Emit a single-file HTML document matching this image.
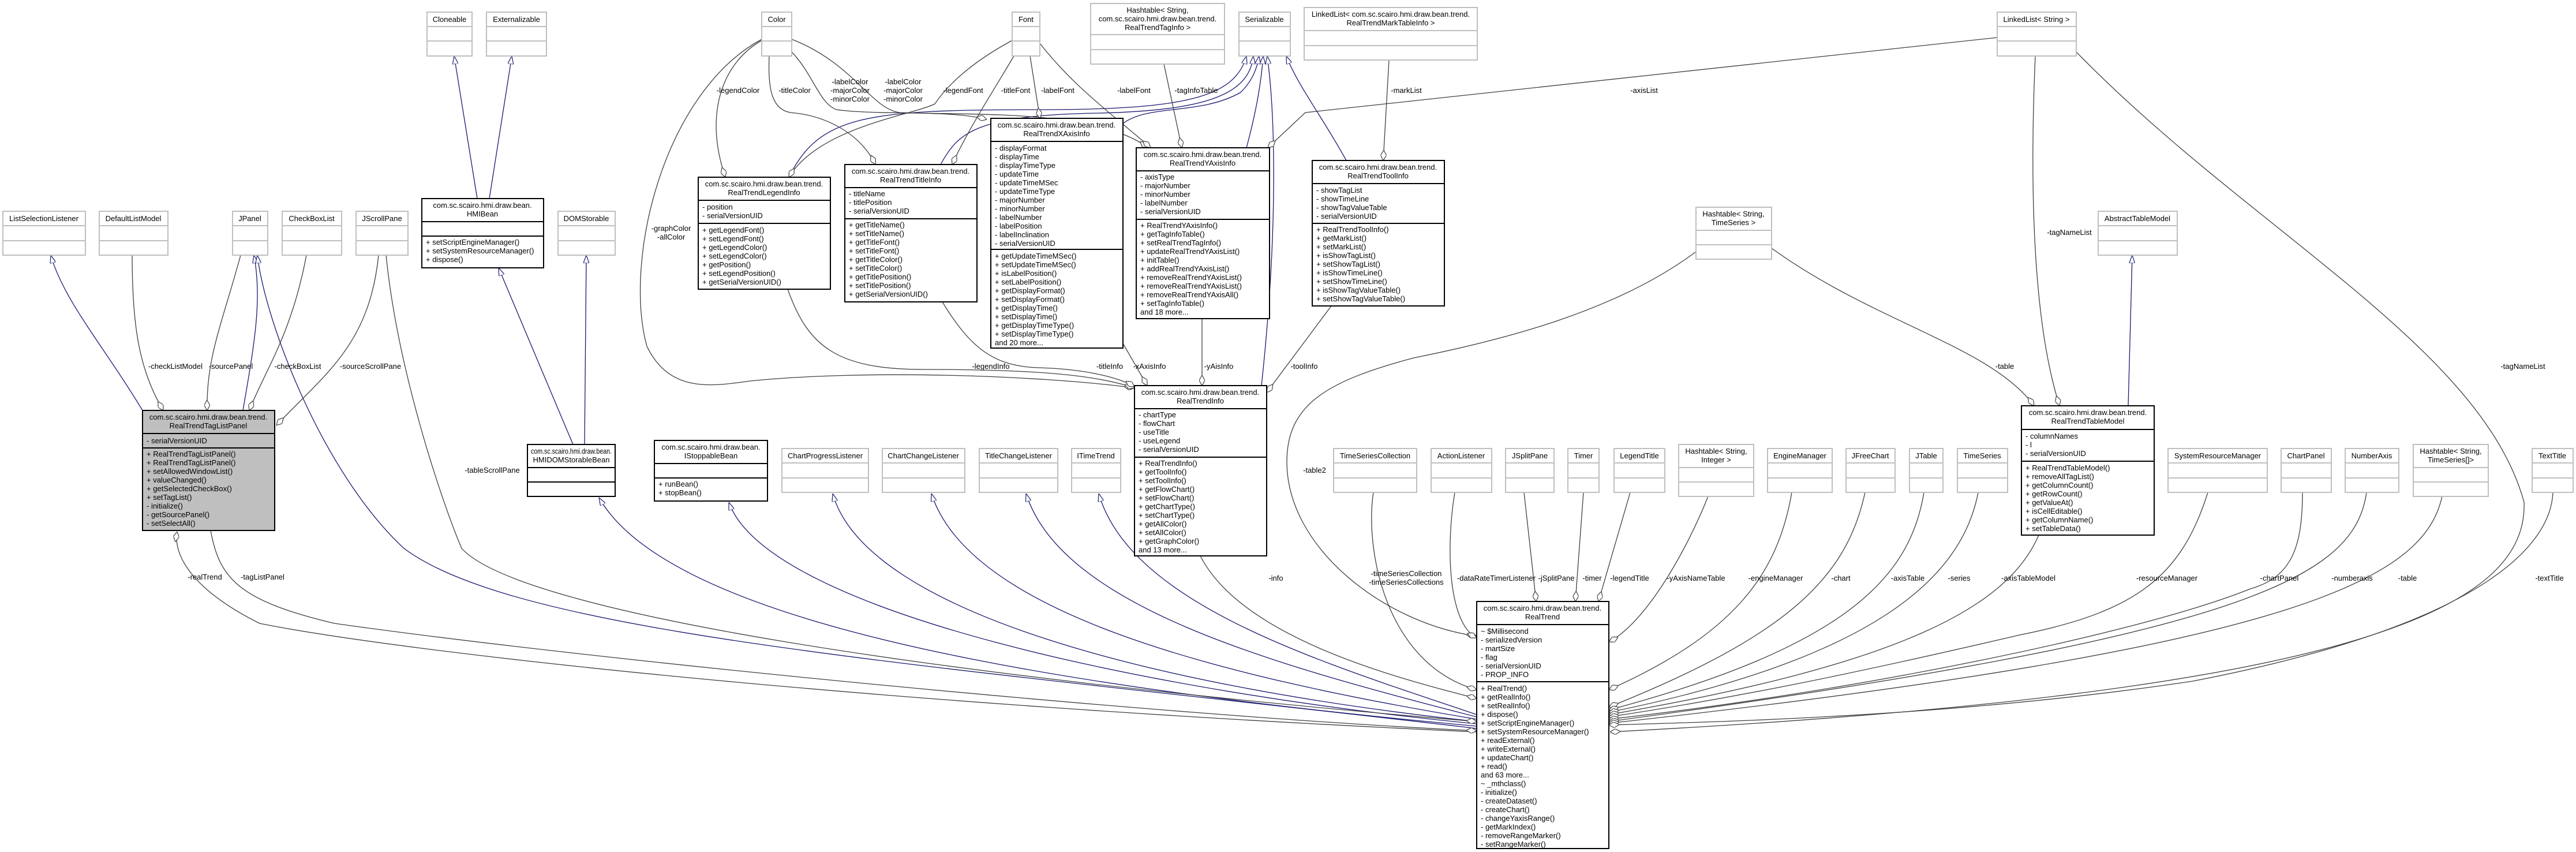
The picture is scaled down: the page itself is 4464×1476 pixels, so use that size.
<!DOCTYPE html>
<html><head><meta charset="utf-8"><style>
html,body{margin:0;padding:0;background:#fff;}
svg{display:block;}
text{font-family:"Liberation Sans",sans-serif;font-size:13px;fill:#000;}
.c{text-anchor:middle;}
.g{fill:#fff;stroke:#bfbfbf;stroke-width:2;}
.gl{stroke:#bfbfbf;stroke-width:2;}
.b{fill:#fff;stroke:#000;stroke-width:2;}
.bl{stroke:#000;stroke-width:2;}
.inh{fill:none;stroke:#191970;stroke-width:1.3;marker-end:url(#tri);}
.cmp{fill:none;stroke:#404040;stroke-width:1.3;marker-end:url(#dia);}
</style></head><body>
<svg width="4464" height="1476" viewBox="0 0 4464 1476" xmlns="http://www.w3.org/2000/svg">
<defs>
<marker id="tri" viewBox="0 0 14 10" markerWidth="14" markerHeight="10" refX="14" refY="5" orient="auto" markerUnits="userSpaceOnUse"><path d="M0,0 L14,5 L0,10 z" fill="#fff" stroke="#191970" stroke-width="1.2"/></marker>
<marker id="dia" viewBox="0 0 18 10" markerWidth="18" markerHeight="10" refX="18" refY="5" orient="auto" markerUnits="userSpaceOnUse"><path d="M0,5 L9,0 L18,5 L9,10 z" fill="#fff" stroke="#404040" stroke-width="1.2"/></marker>
</defs>

<!-- inheritance -->
<path class="inh" d="M827,344 L787,97"/>
<path class="inh" d="M848,344 L887,97"/>
<path class="inh" d="M993,770 L864,464"/>
<path class="inh" d="M1013,770 L1016,442"/>
<path class="inh" d="M247,711 C180,600 110,520 88,442"/>
<path class="inh" d="M421,711 C440,600 455,520 440,442"/>
<path class="inh" d="M2559,1262 C1600,1150 900,1100 700,950 C560,820 460,560 446,442"/>
<path class="inh" d="M2559,1258 C1700,1180 1150,1060 1038,862"/>
<path class="inh" d="M2559,1254 C2000,1200 1330,1060 1263,870"/>
<path class="inh" d="M2559,1250 C2000,1190 1500,1060 1443,855"/>
<path class="inh" d="M2559,1246 C2100,1170 1680,1060 1614,855"/>
<path class="inh" d="M2559,1242 C2200,1150 1840,1050 1778,855"/>
<path class="inh" d="M2559,1238 C2300,1150 1960,1050 1904,855"/>
<path class="inh" d="M1367,307 C1420,200 1500,190 1800,190 C2050,190 2140,170 2160,97"/>
<path class="inh" d="M1630,285 C1660,230 1690,200 1900,196 C2100,192 2165,160 2172,97"/>
<path class="inh" d="M1946,214 C1990,180 2080,200 2150,160 C2170,140 2178,120 2182,97"/>
<path class="inh" d="M2160,256 C2175,200 2185,150 2189,97"/>
<path class="inh" d="M2186,668 C2215,400 2210,200 2196,97"/>
<path class="inh" d="M2333,278 C2290,200 2250,150 2229,97"/>
<path class="inh" d="M3688,703 L3695,442"/>

<!-- compositions -->
<path class="cmp" d="M229,442 C229,560 240,640 283,711"/>
<path class="cmp" d="M417,442 C385,560 357,620 359,711"/>
<path class="cmp" d="M531,442 C505,580 460,640 432,711"/>
<path class="cmp" d="M656,442 C640,600 560,650 479,737"/>
<path class="cmp" d="M669,442 C690,650 770,880 800,950 C900,1060 1600,1170 2559,1250"/>
<path class="cmp" d="M2559,1268 C1500,1220 700,1130 450,1080 C330,1020 300,960 307,921"/>
<path class="cmp" d="M365,919 C380,1000 410,1040 580,1080 C1000,1140 2000,1240 2559,1266"/>
<path class="cmp" d="M1320,70 C1250,110 1220,200 1257,307"/>
<path class="cmp" d="M1333,97 C1330,160 1340,190 1370,195 C1430,200 1490,230 1517,285"/>
<path class="cmp" d="M1372,90 C1410,130 1420,180 1450,190 C1520,200 1650,190 1710,207"/>
<path class="cmp" d="M1372,68 C1480,110 1510,190 1560,195 C1700,200 1900,190 1990,256"/>
<path class="cmp" d="M1320,68 C1150,160 1080,450 1121,600 C1160,680 1230,670 1300,660 C1500,640 1800,650 1966,672"/>
<path class="cmp" d="M1365,501 C1400,600 1450,640 1600,640 C1800,640 1900,650 1966,672"/>
<path class="cmp" d="M1633,523 C1680,600 1720,635 1800,637 C1900,640 1950,660 1966,670"/>
<path class="cmp" d="M1946,595 L1988,668"/>
<path class="cmp" d="M2083,552 L2083,668"/>
<path class="cmp" d="M2307,530 L2195,680"/>
<path class="cmp" d="M1754,70 C1680,110 1640,150 1620,180 C1580,200 1420,220 1367,307"/>
<path class="cmp" d="M1757,97 C1720,160 1680,220 1650,285"/>
<path class="cmp" d="M1785,97 L1802,205"/>
<path class="cmp" d="M1802,75 C1860,150 1930,200 1994,256"/>
<path class="cmp" d="M2017,111 L2048,256"/>
<path class="cmp" d="M2407,104 L2397,278"/>
<path class="cmp" d="M3461,65 L2262,195 L2197,256"/>
<path class="cmp" d="M3527,97 C3518,300 3520,550 3569,703"/>
<path class="cmp" d="M3598,90 C3900,400 4300,600 4374,870 C4380,1050 4100,1200 2790,1268"/>
<path class="cmp" d="M3070,430 C3250,560 3450,600 3525,703"/>
<path class="cmp" d="M2939,436 C2800,540 2600,590 2450,620 C2300,660 2230,700 2230,800 C2230,950 2400,1080 2559,1102"/>
<path class="cmp" d="M2080,963 C2150,1100 2400,1170 2559,1210"/>
<path class="cmp" d="M2380,853 C2365,950 2400,1150 2559,1195"/>
<path class="cmp" d="M2521,853 C2505,950 2510,1080 2559,1105"/>
<path class="cmp" d="M2641,853 L2662,1042"/>
<path class="cmp" d="M2744,853 L2730,1042"/>
<path class="cmp" d="M2825,853 L2770,1042"/>
<path class="cmp" d="M2960,860 C2920,960 2850,1080 2788,1112"/>
<path class="cmp" d="M3105,853 C3080,1000 3000,1100 2788,1195"/>
<path class="cmp" d="M3232,853 C3200,1000 3100,1100 2788,1225"/>
<path class="cmp" d="M3334,853 C3310,1000 3200,1120 2788,1230"/>
<path class="cmp" d="M3428,853 C3400,1000 3250,1140 2788,1234"/>
<path class="cmp" d="M3533,927 C3480,1050 3300,1150 2788,1238"/>
<path class="cmp" d="M3826,853 C3780,1000 3700,1060 3500,1100 C3200,1170 3000,1210 2788,1242"/>
<path class="cmp" d="M3990,853 C3990,950 3970,1000 3900,1020 C3700,1100 3200,1200 2788,1246"/>
<path class="cmp" d="M4101,853 C4080,1000 3900,1100 2788,1250"/>
<path class="cmp" d="M4232,860 C4200,1000 4000,1120 2788,1253"/>
<path class="cmp" d="M4424,853 C4420,950 4290,1085 3800,1180 C3400,1240 3000,1250 2788,1256"/>

<g>
<text class="c" x="304" y="639">-checkListModel</text>
<text class="c" x="400" y="639">-sourcePanel</text>
<text class="c" x="516" y="639">-checkBoxList</text>
<text class="c" x="642" y="639">-sourceScrollPane</text>
<text class="c" x="853" y="819">-tableScrollPane</text>
<text class="c" x="355" y="1004">-realTrend</text>
<text class="c" x="455" y="1004">-tagListPanel</text>
<text class="c" x="1279" y="161">-legendColor</text>
<text class="c" x="1377" y="161">-titleColor</text>
<text class="c" x="1473" y="146">-labelColor</text><text class="c" x="1473" y="161">-majorColor</text><text class="c" x="1473" y="176">-minorColor</text>
<text class="c" x="1565" y="146">-labelColor</text><text class="c" x="1565" y="161">-majorColor</text><text class="c" x="1565" y="176">-minorColor</text>
<text class="c" x="1669" y="161">-legendFont</text>
<text class="c" x="1760" y="161">-titleFont</text>
<text class="c" x="1833" y="161">-labelFont</text>
<text class="c" x="1965" y="161">-labelFont</text>
<text class="c" x="1163" y="400">-graphColor</text><text class="c" x="1163" y="415">-allColor</text>
<text class="c" x="2073" y="161">-tagInfoTable</text>
<text class="c" x="2437" y="161">-markList</text>
<text class="c" x="2849" y="161">-axisList</text>
<text class="c" x="3586" y="407">-tagNameList</text>
<text class="c" x="1717" y="639">-legendInfo</text>
<text class="c" x="1923" y="639">-titleInfo</text>
<text class="c" x="1992" y="639">-xAxisInfo</text>
<text class="c" x="2112" y="639">-yAisInfo</text>
<text class="c" x="2260" y="639">-toolInfo</text>
<text class="c" x="2278" y="819">-table2</text>
<text class="c" x="3474" y="639">-table</text>
<text class="c" x="4372" y="639">-tagNameList</text>
<text class="c" x="2211" y="1006">-info</text>
<text class="c" x="2437" y="998">-timeSeriesCollection</text><text class="c" x="2437" y="1013">-timeSeriesCollections</text>
<text class="c" x="2593" y="1006">-dataRateTimerListener</text>
<text class="c" x="2697" y="1006">-jSplitPane</text>
<text class="c" x="2759" y="1006">-timer</text>
<text class="c" x="2824" y="1006">-legendTitle</text>
<text class="c" x="2939" y="1006">-yAxisNameTable</text>
<text class="c" x="3077" y="1006">-engineManager</text>
<text class="c" x="3190" y="1006">-chart</text>
<text class="c" x="3306" y="1006">-axisTable</text>
<text class="c" x="3395" y="1006">-series</text>
<text class="c" x="3515" y="1006">-axisTableModel</text>
<text class="c" x="3755" y="1006">-resourceManager</text>
<text class="c" x="3950" y="1006">-chartPanel</text>
<text class="c" x="4076" y="1006">-numberaxis</text>
<text class="c" x="4172" y="1006">-table</text>
<text class="c" x="4418" y="1006">-textTitle</text>
</g>

<g>
<rect class="g" x="740" y="21" width="78" height="76"/><line class="gl" x1="740" y1="46" x2="818" y2="46"/><line class="gl" x1="740" y1="71" x2="818" y2="71"/><text class="c" x="779" y="38">Cloneable</text>
<rect class="g" x="843" y="21" width="104" height="76"/><line class="gl" x1="843" y1="46" x2="947" y2="46"/><line class="gl" x1="843" y1="71" x2="947" y2="71"/><text class="c" x="895" y="38">Externalizable</text>
<rect class="g" x="1320" y="21" width="52" height="76"/><line class="gl" x1="1320" y1="46" x2="1372" y2="46"/><line class="gl" x1="1320" y1="71" x2="1372" y2="71"/><text class="c" x="1346" y="38">Color</text>
<rect class="g" x="1754" y="21" width="48" height="76"/><line class="gl" x1="1754" y1="46" x2="1802" y2="46"/><line class="gl" x1="1754" y1="71" x2="1802" y2="71"/><text class="c" x="1778" y="38">Font</text>
<rect class="g" x="2147" y="21" width="89" height="76"/><line class="gl" x1="2147" y1="46" x2="2236" y2="46"/><line class="gl" x1="2147" y1="71" x2="2236" y2="71"/><text class="c" x="2191" y="38">Serializable</text>
<rect class="g" x="3461" y="21" width="137" height="76"/><line class="gl" x1="3461" y1="46" x2="3598" y2="46"/><line class="gl" x1="3461" y1="71" x2="3598" y2="71"/><text class="c" x="3529" y="38">LinkedList&lt; String &gt;</text>
<rect class="g" x="1890" y="6" width="232" height="105"/><line class="gl" x1="1890" y1="60" x2="2122" y2="60"/><line class="gl" x1="1890" y1="86" x2="2122" y2="86"/>
<text class="c" x="2006" y="22">Hashtable&lt; String,</text><text class="c" x="2006" y="37">com.sc.scairo.hmi.draw.bean.trend.</text><text class="c" x="2006" y="52">RealTrendTagInfo &gt;</text>
<rect class="g" x="2260" y="13" width="300" height="91"/><line class="gl" x1="2260" y1="53" x2="2560" y2="53"/><line class="gl" x1="2260" y1="79" x2="2560" y2="79"/>
<text class="c" x="2410" y="29">LinkedList&lt; com.sc.scairo.hmi.draw.bean.trend.</text><text class="c" x="2410" y="44">RealTrendMarkTableInfo &gt;</text>

<rect class="g" x="5" y="366" width="143" height="76"/><line class="gl" x1="5" y1="391" x2="148" y2="391"/><line class="gl" x1="5" y1="417" x2="148" y2="417"/><text class="c" x="76" y="383">ListSelectionListener</text>
<rect class="g" x="172" y="366" width="119" height="76"/><line class="gl" x1="172" y1="391" x2="291" y2="391"/><line class="gl" x1="172" y1="417" x2="291" y2="417"/><text class="c" x="231" y="383">DefaultListModel</text>
<rect class="g" x="403" y="366" width="61" height="76"/><line class="gl" x1="403" y1="391" x2="464" y2="391"/><line class="gl" x1="403" y1="417" x2="464" y2="417"/><text class="c" x="433" y="383">JPanel</text>
<rect class="g" x="489" y="366" width="103" height="76"/><line class="gl" x1="489" y1="391" x2="592" y2="391"/><line class="gl" x1="489" y1="417" x2="592" y2="417"/><text class="c" x="540" y="383">CheckBoxList</text>
<rect class="g" x="617" y="366" width="90" height="76"/><line class="gl" x1="617" y1="391" x2="707" y2="391"/><line class="gl" x1="617" y1="417" x2="707" y2="417"/><text class="c" x="662" y="383">JScrollPane</text>
<rect class="g" x="967" y="366" width="99" height="76"/><line class="gl" x1="967" y1="391" x2="1066" y2="391"/><line class="gl" x1="967" y1="417" x2="1066" y2="417"/><text class="c" x="1016" y="383">DOMStorable</text>
<rect class="g" x="3636" y="366" width="137" height="76"/><line class="gl" x1="3636" y1="391" x2="3773" y2="391"/><line class="gl" x1="3636" y1="417" x2="3773" y2="417"/><text class="c" x="3704" y="383">AbstractTableModel</text>
<rect class="g" x="2939" y="359" width="131" height="90"/><line class="gl" x1="2939" y1="399" x2="3070" y2="399"/><line class="gl" x1="2939" y1="424" x2="3070" y2="424"/><text class="c" x="3004" y="375">Hashtable&lt; String,</text><text class="c" x="3004" y="390">TimeSeries &gt;</text>

<rect class="g" x="1355" y="777" width="150" height="76"/><line class="gl" x1="1355" y1="802" x2="1505" y2="802"/><line class="gl" x1="1355" y1="828" x2="1505" y2="828"/><text class="c" x="1430" y="794">ChartProgressListener</text>
<rect class="g" x="1529" y="777" width="143" height="76"/><line class="gl" x1="1529" y1="802" x2="1672" y2="802"/><line class="gl" x1="1529" y1="828" x2="1672" y2="828"/><text class="c" x="1600" y="794">ChartChangeListener</text>
<rect class="g" x="1697" y="777" width="136" height="76"/><line class="gl" x1="1697" y1="802" x2="1833" y2="802"/><line class="gl" x1="1697" y1="828" x2="1833" y2="828"/><text class="c" x="1765" y="794">TitleChangeListener</text>
<rect class="g" x="1857" y="777" width="85" height="76"/><line class="gl" x1="1857" y1="802" x2="1942" y2="802"/><line class="gl" x1="1857" y1="828" x2="1942" y2="828"/><text class="c" x="1899" y="794">ITimeTrend</text>
<rect class="g" x="2311" y="777" width="144" height="76"/><line class="gl" x1="2311" y1="802" x2="2455" y2="802"/><line class="gl" x1="2311" y1="828" x2="2455" y2="828"/><text class="c" x="2383" y="794">TimeSeriesCollection</text>
<rect class="g" x="2480" y="777" width="105" height="76"/><line class="gl" x1="2480" y1="802" x2="2585" y2="802"/><line class="gl" x1="2480" y1="828" x2="2585" y2="828"/><text class="c" x="2532" y="794">ActionListener</text>
<rect class="g" x="2609" y="777" width="84" height="76"/><line class="gl" x1="2609" y1="802" x2="2693" y2="802"/><line class="gl" x1="2609" y1="828" x2="2693" y2="828"/><text class="c" x="2651" y="794">JSplitPane</text>
<rect class="g" x="2717" y="777" width="54" height="76"/><line class="gl" x1="2717" y1="802" x2="2771" y2="802"/><line class="gl" x1="2717" y1="828" x2="2771" y2="828"/><text class="c" x="2744" y="794">Timer</text>
<rect class="g" x="2797" y="777" width="88" height="76"/><line class="gl" x1="2797" y1="802" x2="2885" y2="802"/><line class="gl" x1="2797" y1="828" x2="2885" y2="828"/><text class="c" x="2841" y="794">LegendTitle</text>
<rect class="g" x="2909" y="770" width="130" height="90"/><line class="gl" x1="2909" y1="810" x2="3039" y2="810"/><line class="gl" x1="2909" y1="835" x2="3039" y2="835"/><text class="c" x="2974" y="786">Hashtable&lt; String,</text><text class="c" x="2974" y="801">Integer &gt;</text>
<rect class="g" x="3063" y="777" width="112" height="76"/><line class="gl" x1="3063" y1="802" x2="3175" y2="802"/><line class="gl" x1="3063" y1="828" x2="3175" y2="828"/><text class="c" x="3119" y="794">EngineManager</text>
<rect class="g" x="3199" y="777" width="85" height="76"/><line class="gl" x1="3199" y1="802" x2="3284" y2="802"/><line class="gl" x1="3199" y1="828" x2="3284" y2="828"/><text class="c" x="3241" y="794">JFreeChart</text>
<rect class="g" x="3309" y="777" width="58" height="76"/><line class="gl" x1="3309" y1="802" x2="3367" y2="802"/><line class="gl" x1="3309" y1="828" x2="3367" y2="828"/><text class="c" x="3338" y="794">JTable</text>
<rect class="g" x="3392" y="777" width="87" height="76"/><line class="gl" x1="3392" y1="802" x2="3479" y2="802"/><line class="gl" x1="3392" y1="828" x2="3479" y2="828"/><text class="c" x="3435" y="794">TimeSeries</text>
<rect class="g" x="3757" y="777" width="172" height="76"/><line class="gl" x1="3757" y1="802" x2="3929" y2="802"/><line class="gl" x1="3757" y1="828" x2="3929" y2="828"/><text class="c" x="3843" y="794">SystemResourceManager</text>
<rect class="g" x="3953" y="777" width="87" height="76"/><line class="gl" x1="3953" y1="802" x2="4040" y2="802"/><line class="gl" x1="3953" y1="828" x2="4040" y2="828"/><text class="c" x="3996" y="794">ChartPanel</text>
<rect class="g" x="4064" y="777" width="93" height="76"/><line class="gl" x1="4064" y1="802" x2="4157" y2="802"/><line class="gl" x1="4064" y1="828" x2="4157" y2="828"/><text class="c" x="4110" y="794">NumberAxis</text>
<rect class="g" x="4182" y="770" width="130" height="90"/><line class="gl" x1="4182" y1="810" x2="4312" y2="810"/><line class="gl" x1="4182" y1="835" x2="4312" y2="835"/><text class="c" x="4247" y="786">Hashtable&lt; String,</text><text class="c" x="4247" y="801">TimeSeries[]&gt;</text>
<rect class="g" x="4388" y="777" width="71" height="76"/><line class="gl" x1="4388" y1="802" x2="4459" y2="802"/><line class="gl" x1="4388" y1="828" x2="4459" y2="828"/><text class="c" x="4423" y="794">TextTitle</text>
</g>

<rect class="b" x="731" y="344" width="211" height="120"/><line class="bl" x1="731" y1="384" x2="942" y2="384"/><line class="bl" x1="731" y1="409" x2="942" y2="409"/>
<text class="c" x="836" y="360">com.sc.scairo.hmi.draw.bean.</text><text class="c" x="836" y="375">HMIBean</text>
<text x="738" y="424">+ setScriptEngineManager()</text><text x="738" y="439">+ setSystemResourceManager()</text><text x="738" y="454">+ dispose()</text>

<rect class="b" x="914" y="770" width="152" height="90"/><line class="bl" x1="914" y1="810" x2="1066" y2="810"/><line class="bl" x1="914" y1="835" x2="1066" y2="835"/>
<text class="c" x="990" y="786" textLength="140" lengthAdjust="spacingAndGlyphs">com.sc.scairo.hmi.draw.bean.</text><text class="c" x="990" y="801">HMIDOMStorableBean</text>

<rect class="b" x="1134" y="763" width="196" height="105"/><line class="bl" x1="1134" y1="803" x2="1330" y2="803"/><line class="bl" x1="1134" y1="828" x2="1330" y2="828"/>
<text class="c" x="1232" y="779">com.sc.scairo.hmi.draw.bean.</text><text class="c" x="1232" y="794">IStoppableBean</text>
<text x="1141" y="843">+ runBean()</text><text x="1141" y="858">+ stopBean()</text>

<rect x="247" y="711" width="229" height="208" fill="#bfbfbf" stroke="#000" stroke-width="2"/><line class="bl" x1="247" y1="751" x2="476" y2="751"/><line class="bl" x1="247" y1="776" x2="476" y2="776"/>
<text class="c" x="361" y="727">com.sc.scairo.hmi.draw.bean.trend.</text><text class="c" x="361" y="742">RealTrendTagListPanel</text>
<text x="254" y="768">- serialVersionUID</text>
<text x="254" y="791">+ RealTrendTagListPanel()</text><text x="254" y="806">+ RealTrendTagListPanel()</text><text x="254" y="821">+ setAllowedWindowList()</text><text x="254" y="836">+ valueChanged()</text><text x="254" y="851">+ getSelectedCheckBox()</text><text x="254" y="866">+ setTagList()</text><text x="254" y="881">- initialize()</text><text x="254" y="896">- getSourcePanel()</text><text x="254" y="911">- setSelectAll()</text>

<rect class="b" x="1210" y="307" width="229" height="194"/><line class="bl" x1="1210" y1="347" x2="1439" y2="347"/><line class="bl" x1="1210" y1="387" x2="1439" y2="387"/>
<text class="c" x="1324" y="323">com.sc.scairo.hmi.draw.bean.trend.</text><text class="c" x="1324" y="338">RealTrendLegendInfo</text>
<text x="1217" y="363">- position</text><text x="1217" y="378">- serialVersionUID</text>
<text x="1217" y="403">+ getLegendFont()</text><text x="1217" y="418">+ setLegendFont()</text><text x="1217" y="433">+ getLegendColor()</text><text x="1217" y="448">+ setLegendColor()</text><text x="1217" y="463">+ getPosition()</text><text x="1217" y="478">+ setLegendPosition()</text><text x="1217" y="493">+ getSerialVersionUID()</text>

<rect class="b" x="1464" y="285" width="229" height="238"/><line class="bl" x1="1464" y1="325" x2="1693" y2="325"/><line class="bl" x1="1464" y1="379" x2="1693" y2="379"/>
<text class="c" x="1578" y="301">com.sc.scairo.hmi.draw.bean.trend.</text><text class="c" x="1578" y="316">RealTrendTitleInfo</text>
<text x="1471" y="340">- titleName</text><text x="1471" y="355">- titlePosition</text><text x="1471" y="370">- serialVersionUID</text>
<text x="1471" y="394">+ getTitleName()</text><text x="1471" y="409">+ setTitleName()</text><text x="1471" y="424">+ getTitleFont()</text><text x="1471" y="439">+ setTitleFont()</text><text x="1471" y="454">+ getTitleColor()</text><text x="1471" y="469">+ setTitleColor()</text><text x="1471" y="484">+ getTitlePosition()</text><text x="1471" y="499">+ setTitlePosition()</text><text x="1471" y="514">+ getSerialVersionUID()</text>

<rect class="b" x="1717" y="205" width="229" height="398"/><line class="bl" x1="1717" y1="245" x2="1946" y2="245"/><line class="bl" x1="1717" y1="432" x2="1946" y2="432"/>
<text class="c" x="1831" y="221">com.sc.scairo.hmi.draw.bean.trend.</text><text class="c" x="1831" y="236">RealTrendXAxisInfo</text>
<text x="1724" y="261">- displayFormat</text><text x="1724" y="276">- displayTime</text><text x="1724" y="291">- displayTimeType</text><text x="1724" y="306">- updateTime</text><text x="1724" y="321">- updateTimeMSec</text><text x="1724" y="336">- updateTimeType</text><text x="1724" y="351">- majorNumber</text><text x="1724" y="366">- minorNumber</text><text x="1724" y="381">- labelNumber</text><text x="1724" y="396">- labelPosition</text><text x="1724" y="411">- labelInclination</text><text x="1724" y="426">- serialVersionUID</text>
<text x="1724" y="448">+ getUpdateTimeMSec()</text><text x="1724" y="463">+ setUpdateTimeMSec()</text><text x="1724" y="478">+ isLabelPosition()</text><text x="1724" y="493">+ setLabelPosition()</text><text x="1724" y="508">+ getDisplayFormat()</text><text x="1724" y="523">+ setDisplayFormat()</text><text x="1724" y="538">+ getDisplayTime()</text><text x="1724" y="553">+ setDisplayTime()</text><text x="1724" y="568">+ getDisplayTimeType()</text><text x="1724" y="583">+ setDisplayTimeType()</text><text x="1724" y="598">and 20 more...</text>

<rect class="b" x="1969" y="256" width="231" height="296"/><line class="bl" x1="1969" y1="296" x2="2200" y2="296"/><line class="bl" x1="1969" y1="380" x2="2200" y2="380"/>
<text class="c" x="2084" y="272">com.sc.scairo.hmi.draw.bean.trend.</text><text class="c" x="2084" y="287">RealTrendYAxisInfo</text>
<text x="1976" y="311">- axisType</text><text x="1976" y="326">- majorNumber</text><text x="1976" y="341">- minorNumber</text><text x="1976" y="356">- labelNumber</text><text x="1976" y="371">- serialVersionUID</text>
<text x="1976" y="395">+ RealTrendYAxisInfo()</text><text x="1976" y="410">+ getTagInfoTable()</text><text x="1976" y="425">+ setRealTrendTagInfo()</text><text x="1976" y="440">+ updateRealTrendYAxisList()</text><text x="1976" y="455">+ initTable()</text><text x="1976" y="470">+ addRealTrendYAxisList()</text><text x="1976" y="485">+ removeRealTrendYAxisList()</text><text x="1976" y="500">+ removeRealTrendYAxisList()</text><text x="1976" y="515">+ removeRealTrendYAxisAll()</text><text x="1976" y="530">+ setTagInfoTable()</text><text x="1976" y="545">and 18 more...</text>

<rect class="b" x="2274" y="278" width="229" height="252"/><line class="bl" x1="2274" y1="318" x2="2503" y2="318"/><line class="bl" x1="2274" y1="387" x2="2503" y2="387"/>
<text class="c" x="2388" y="294">com.sc.scairo.hmi.draw.bean.trend.</text><text class="c" x="2388" y="309">RealTrendToolInfo</text>
<text x="2281" y="334">- showTagList</text><text x="2281" y="349">- showTimeLine</text><text x="2281" y="364">- showTagValueTable</text><text x="2281" y="379">- serialVersionUID</text>
<text x="2281" y="402">+ RealTrendToolInfo()</text><text x="2281" y="417">+ getMarkList()</text><text x="2281" y="432">+ setMarkList()</text><text x="2281" y="447">+ isShowTagList()</text><text x="2281" y="462">+ setShowTagList()</text><text x="2281" y="477">+ isShowTimeLine()</text><text x="2281" y="492">+ setShowTimeLine()</text><text x="2281" y="507">+ isShowTagValueTable()</text><text x="2281" y="522">+ setShowTagValueTable()</text>

<rect class="b" x="1966" y="668" width="229" height="295"/><line class="bl" x1="1966" y1="708" x2="2195" y2="708"/><line class="bl" x1="1966" y1="792" x2="2195" y2="792"/>
<text class="c" x="2080" y="684">com.sc.scairo.hmi.draw.bean.trend.</text><text class="c" x="2080" y="699">RealTrendInfo</text>
<text x="1973" y="723">- chartType</text><text x="1973" y="738">- flowChart</text><text x="1973" y="753">- useTitle</text><text x="1973" y="768">- useLegend</text><text x="1973" y="783">- serialVersionUID</text>
<text x="1973" y="807">+ RealTrendInfo()</text><text x="1973" y="822">+ getToolInfo()</text><text x="1973" y="837">+ setToolInfo()</text><text x="1973" y="852">+ getFlowChart()</text><text x="1973" y="867">+ setFlowChart()</text><text x="1973" y="882">+ getChartType()</text><text x="1973" y="897">+ setChartType()</text><text x="1973" y="912">+ getAllColor()</text><text x="1973" y="927">+ setAllColor()</text><text x="1973" y="942">+ getGraphColor()</text><text x="1973" y="957">and 13 more...</text>

<rect class="b" x="3503" y="703" width="230" height="224"/><line class="bl" x1="3503" y1="744" x2="3733" y2="744"/><line class="bl" x1="3503" y1="799" x2="3733" y2="799"/>
<text class="c" x="3618" y="719">com.sc.scairo.hmi.draw.bean.trend.</text><text class="c" x="3618" y="734">RealTrendTableModel</text>
<text x="3510" y="760">- columnNames</text><text x="3510" y="775">- l</text><text x="3510" y="790">- serialVersionUID</text>
<text x="3510" y="815">+ RealTrendTableModel()</text><text x="3510" y="830">+ removeAllTagList()</text><text x="3510" y="845">+ getColumnCount()</text><text x="3510" y="860">+ getRowCount()</text><text x="3510" y="875">+ getValueAt()</text><text x="3510" y="890">+ isCellEditable()</text><text x="3510" y="905">+ getColumnName()</text><text x="3510" y="920">+ setTableData()</text>

<rect class="b" x="2559" y="1042" width="229" height="428"/><line class="bl" x1="2559" y1="1082" x2="2788" y2="1082"/><line class="bl" x1="2559" y1="1181" x2="2788" y2="1181"/>
<text class="c" x="2673" y="1058">com.sc.scairo.hmi.draw.bean.trend.</text><text class="c" x="2673" y="1073">RealTrend</text>
<text x="2566" y="1098">~ $Millisecond</text><text x="2566" y="1113">- serializedVersion</text><text x="2566" y="1128">- martSize</text><text x="2566" y="1143">- flag</text><text x="2566" y="1158">- serialVersionUID</text><text x="2566" y="1173">- PROP_INFO</text>
<text x="2566" y="1197">+ RealTrend()</text><text x="2566" y="1212">+ getRealInfo()</text><text x="2566" y="1227">+ setRealInfo()</text><text x="2566" y="1242">+ dispose()</text><text x="2566" y="1257">+ setScriptEngineManager()</text><text x="2566" y="1272">+ setSystemResourceManager()</text><text x="2566" y="1287">+ readExternal()</text><text x="2566" y="1302">+ writeExternal()</text><text x="2566" y="1317">+ updateChart()</text><text x="2566" y="1332">+ read()</text><text x="2566" y="1347">and 63 more...</text><text x="2566" y="1362">~ _mthclass()</text><text x="2566" y="1377">- initialize()</text><text x="2566" y="1392">- createDataset()</text><text x="2566" y="1407">- createChart()</text><text x="2566" y="1422">- changeYaxisRange()</text><text x="2566" y="1437">- getMarkIndex()</text><text x="2566" y="1452">- removeRangeMarker()</text><text x="2566" y="1467">- setRangeMarker()</text>
</svg>
</body></html>
